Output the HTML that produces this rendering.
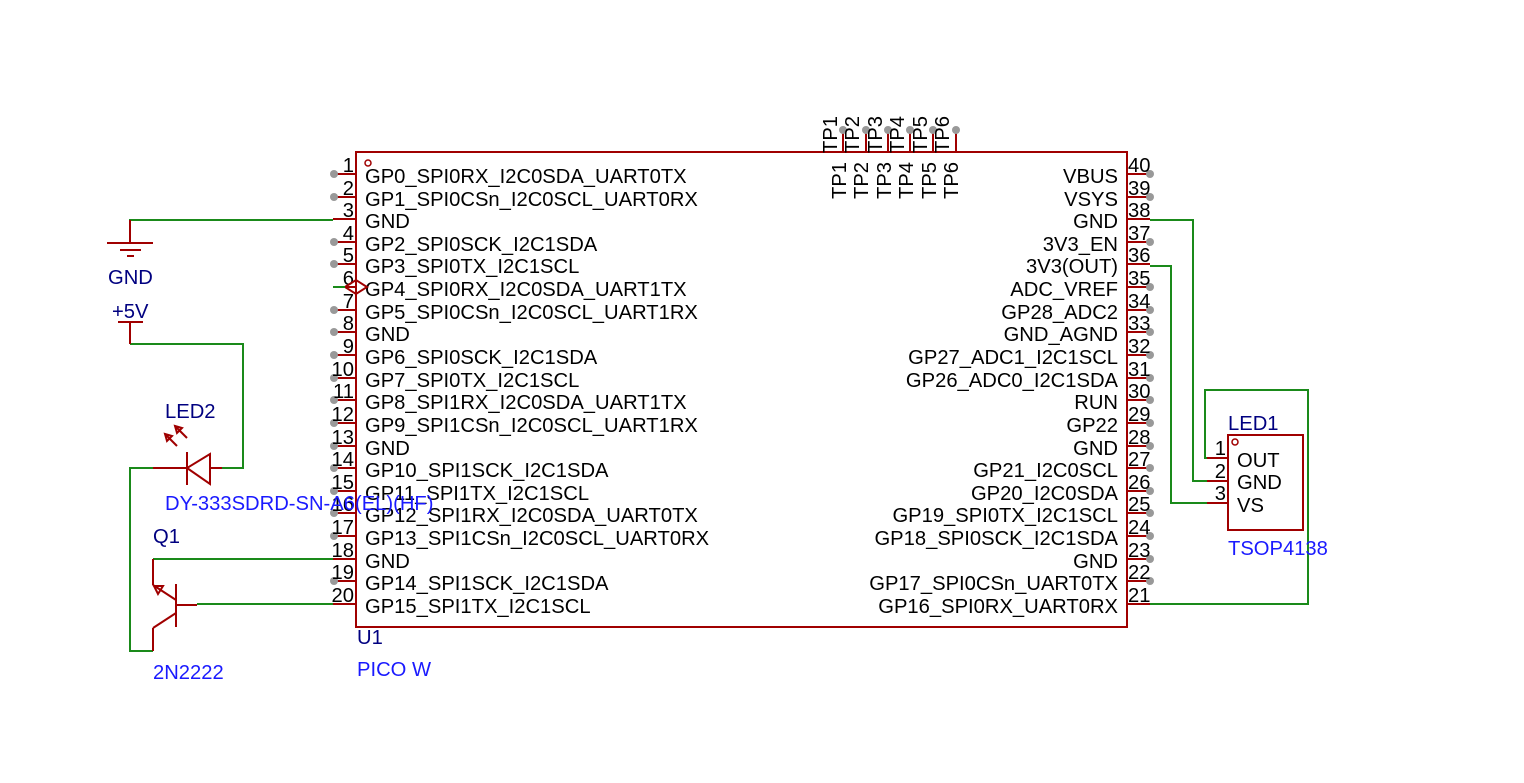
<!DOCTYPE html>
<html><head><meta charset="utf-8"><style>
html,body{margin:0;padding:0;background:#fff;}
svg{display:block;}
text{font-family:"Liberation Sans",Arial,sans-serif;font-size:20.2px;}
</style></head><body>
<svg width="1524" height="783" viewBox="0 0 1524 783" xmlns="http://www.w3.org/2000/svg">
<rect width="1524" height="783" fill="#fff"/>
<rect x="356" y="152" width="771" height="475" fill="none" stroke="#a00000" stroke-width="2"/>
<circle cx="368" cy="163" r="3" fill="none" stroke="#a00000" stroke-width="1.5"/>
<g stroke="#a00000" stroke-width="2">
<line x1="333" y1="174" x2="356" y2="174"/><line x1="333" y1="197" x2="356" y2="197"/><line x1="333" y1="219" x2="356" y2="219"/><line x1="333" y1="242" x2="356" y2="242"/><line x1="333" y1="264" x2="356" y2="264"/><line x1="333" y1="287" x2="356" y2="287"/><line x1="333" y1="310" x2="356" y2="310"/><line x1="333" y1="332" x2="356" y2="332"/><line x1="333" y1="355" x2="356" y2="355"/><line x1="333" y1="378" x2="356" y2="378"/><line x1="333" y1="400" x2="356" y2="400"/><line x1="333" y1="423" x2="356" y2="423"/><line x1="333" y1="446" x2="356" y2="446"/><line x1="333" y1="468" x2="356" y2="468"/><line x1="333" y1="491" x2="356" y2="491"/><line x1="333" y1="513" x2="356" y2="513"/><line x1="333" y1="536" x2="356" y2="536"/><line x1="333" y1="559" x2="356" y2="559"/><line x1="333" y1="581" x2="356" y2="581"/><line x1="333" y1="604" x2="356" y2="604"/>
<line x1="1127" y1="174" x2="1150" y2="174"/><line x1="1127" y1="197" x2="1150" y2="197"/><line x1="1127" y1="219" x2="1150" y2="219"/><line x1="1127" y1="242" x2="1150" y2="242"/><line x1="1127" y1="264" x2="1150" y2="264"/><line x1="1127" y1="287" x2="1150" y2="287"/><line x1="1127" y1="310" x2="1150" y2="310"/><line x1="1127" y1="332" x2="1150" y2="332"/><line x1="1127" y1="355" x2="1150" y2="355"/><line x1="1127" y1="378" x2="1150" y2="378"/><line x1="1127" y1="400" x2="1150" y2="400"/><line x1="1127" y1="423" x2="1150" y2="423"/><line x1="1127" y1="446" x2="1150" y2="446"/><line x1="1127" y1="468" x2="1150" y2="468"/><line x1="1127" y1="491" x2="1150" y2="491"/><line x1="1127" y1="513" x2="1150" y2="513"/><line x1="1127" y1="536" x2="1150" y2="536"/><line x1="1127" y1="559" x2="1150" y2="559"/><line x1="1127" y1="581" x2="1150" y2="581"/><line x1="1127" y1="604" x2="1150" y2="604"/>
</g>
<g fill="#999">
<circle cx="334" cy="174" r="4"/><circle cx="334" cy="197" r="4"/><circle cx="334" cy="242" r="4"/><circle cx="334" cy="264" r="4"/><circle cx="334" cy="310" r="4"/><circle cx="334" cy="332" r="4"/><circle cx="334" cy="355" r="4"/><circle cx="334" cy="378" r="4"/><circle cx="334" cy="400" r="4"/><circle cx="334" cy="423" r="4"/><circle cx="334" cy="446" r="4"/><circle cx="334" cy="468" r="4"/><circle cx="334" cy="491" r="4"/><circle cx="334" cy="513" r="4"/><circle cx="334" cy="536" r="4"/><circle cx="334" cy="581" r="4"/>
<circle cx="1150" cy="174" r="4"/><circle cx="1150" cy="197" r="4"/><circle cx="1150" cy="242" r="4"/><circle cx="1150" cy="287" r="4"/><circle cx="1150" cy="310" r="4"/><circle cx="1150" cy="332" r="4"/><circle cx="1150" cy="355" r="4"/><circle cx="1150" cy="378" r="4"/><circle cx="1150" cy="400" r="4"/><circle cx="1150" cy="423" r="4"/><circle cx="1150" cy="446" r="4"/><circle cx="1150" cy="468" r="4"/><circle cx="1150" cy="491" r="4"/><circle cx="1150" cy="513" r="4"/><circle cx="1150" cy="536" r="4"/><circle cx="1150" cy="559" r="4"/><circle cx="1150" cy="581" r="4"/>
</g>
<g fill="#000" text-anchor="end">
<text x="354" y="172">1</text><text x="354" y="195">2</text><text x="354" y="217">3</text><text x="354" y="240">4</text><text x="354" y="262">5</text><text x="354" y="285">6</text><text x="354" y="308">7</text><text x="354" y="330">8</text><text x="354" y="353">9</text><text x="354" y="376">10</text><text x="354" y="398">11</text><text x="354" y="421">12</text><text x="354" y="444">13</text><text x="354" y="466">14</text><text x="354" y="489">15</text><text x="354" y="511">16</text><text x="354" y="534">17</text><text x="354" y="557">18</text><text x="354" y="579">19</text><text x="354" y="602">20</text>
</g>
<g fill="#000">
<text x="1128" y="172">40</text><text x="1128" y="195">39</text><text x="1128" y="217">38</text><text x="1128" y="240">37</text><text x="1128" y="262">36</text><text x="1128" y="285">35</text><text x="1128" y="308">34</text><text x="1128" y="330">33</text><text x="1128" y="353">32</text><text x="1128" y="376">31</text><text x="1128" y="398">30</text><text x="1128" y="421">29</text><text x="1128" y="444">28</text><text x="1128" y="466">27</text><text x="1128" y="489">26</text><text x="1128" y="511">25</text><text x="1128" y="534">24</text><text x="1128" y="557">23</text><text x="1128" y="579">22</text><text x="1128" y="602">21</text>
</g>
<g fill="#000">
<text x="365" y="183">GP0_SPI0RX_I2C0SDA_UART0TX</text>
<text x="365" y="206">GP1_SPI0CSn_I2C0SCL_UART0RX</text>
<text x="365" y="228">GND</text>
<text x="365" y="251">GP2_SPI0SCK_I2C1SDA</text>
<text x="365" y="273">GP3_SPI0TX_I2C1SCL</text>
<text x="365" y="296">GP4_SPI0RX_I2C0SDA_UART1TX</text>
<text x="365" y="319">GP5_SPI0CSn_I2C0SCL_UART1RX</text>
<text x="365" y="341">GND</text>
<text x="365" y="364">GP6_SPI0SCK_I2C1SDA</text>
<text x="365" y="387">GP7_SPI0TX_I2C1SCL</text>
<text x="365" y="409">GP8_SPI1RX_I2C0SDA_UART1TX</text>
<text x="365" y="432">GP9_SPI1CSn_I2C0SCL_UART1RX</text>
<text x="365" y="455">GND</text>
<text x="365" y="477">GP10_SPI1SCK_I2C1SDA</text>
<text x="365" y="500">GP11_SPI1TX_I2C1SCL</text>
<text x="365" y="522">GP12_SPI1RX_I2C0SDA_UART0TX</text>
<text x="365" y="545">GP13_SPI1CSn_I2C0SCL_UART0RX</text>
<text x="365" y="568">GND</text>
<text x="365" y="590">GP14_SPI1SCK_I2C1SDA</text>
<text x="365" y="613">GP15_SPI1TX_I2C1SCL</text>
</g>
<g fill="#000" text-anchor="end">
<text x="1118" y="183">VBUS</text>
<text x="1118" y="206">VSYS</text>
<text x="1118" y="228">GND</text>
<text x="1118" y="251">3V3_EN</text>
<text x="1118" y="273">3V3(OUT)</text>
<text x="1118" y="296">ADC_VREF</text>
<text x="1118" y="319">GP28_ADC2</text>
<text x="1118" y="341">GND_AGND</text>
<text x="1118" y="364">GP27_ADC1_I2C1SCL</text>
<text x="1118" y="387">GP26_ADC0_I2C1SDA</text>
<text x="1118" y="409">RUN</text>
<text x="1118" y="432">GP22</text>
<text x="1118" y="455">GND</text>
<text x="1118" y="477">GP21_I2C0SCL</text>
<text x="1118" y="500">GP20_I2C0SDA</text>
<text x="1118" y="522">GP19_SPI0TX_I2C1SCL</text>
<text x="1118" y="545">GP18_SPI0SCK_I2C1SDA</text>
<text x="1118" y="568">GND</text>
<text x="1118" y="590">GP17_SPI0CSn_UART0TX</text>
<text x="1118" y="613">GP16_SPI0RX_UART0RX</text>
</g>
<g stroke="#a00000" stroke-width="2">
<line x1="843" y1="130" x2="843" y2="152"/><line x1="866" y1="130" x2="866" y2="152"/>
<line x1="888" y1="130" x2="888" y2="152"/><line x1="910" y1="130" x2="910" y2="152"/>
<line x1="933" y1="130" x2="933" y2="152"/><line x1="956" y1="130" x2="956" y2="152"/>
</g>
<g fill="#999"><circle cx="843" cy="130" r="4"/><circle cx="866" cy="130" r="4"/><circle cx="888" cy="130" r="4"/><circle cx="910" cy="130" r="4"/><circle cx="933" cy="130" r="4"/><circle cx="956" cy="130" r="4"/></g>
<g fill="#000">
<text transform="translate(837,153) rotate(-90)">TP1</text>
<text transform="translate(859,153) rotate(-90)">TP2</text>
<text transform="translate(882,153) rotate(-90)">TP3</text>
<text transform="translate(904,153) rotate(-90)">TP4</text>
<text transform="translate(927,153) rotate(-90)">TP5</text>
<text transform="translate(949,153) rotate(-90)">TP6</text>
<text transform="translate(846,199) rotate(-90)">TP1</text>
<text transform="translate(868,199) rotate(-90)">TP2</text>
<text transform="translate(891,199) rotate(-90)">TP3</text>
<text transform="translate(913,199) rotate(-90)">TP4</text>
<text transform="translate(936,199) rotate(-90)">TP5</text>
<text transform="translate(958,199) rotate(-90)">TP6</text>
</g>
<path d="M345 287 L356 280 L367 287 L356 294 Z" fill="none" stroke="#a00000" stroke-width="2"/>
<line x1="333" y1="287" x2="345" y2="287" stroke="#1a8a1a" stroke-width="2"/>
<g fill="none" stroke="#1a8a1a" stroke-width="2">
<polyline points="333,220 130,220 130,228"/>
<polyline points="130,344 243,344 243,468 222,468"/>
<polyline points="153,468 130,468 130,651 153,651"/>
<polyline points="333,559 153,559"/>
<polyline points="333,604 197,604"/>
<polyline points="1150,220 1193,220 1193,481 1207,481"/>
<polyline points="1150,266 1171,266 1171,503 1207,503"/>
<polyline points="1207,458 1205,458 1205,390 1308,390 1308,604 1150,604"/>
</g>
<g stroke="#a00000" stroke-width="2" fill="none">
<line x1="130" y1="220" x2="130" y2="243"/>
<line x1="107" y1="243" x2="153" y2="243"/>
<line x1="120" y1="250" x2="141" y2="250"/>
<line x1="127" y1="256" x2="134" y2="256"/>
<line x1="118" y1="322" x2="143" y2="322"/>
<line x1="130" y1="322" x2="130" y2="344"/>
<line x1="153" y1="468" x2="187" y2="468"/>
<line x1="210" y1="468" x2="222" y2="468"/>
<path d="M210 454 L210 484 L187 468 Z"/>
<line x1="187" y1="452" x2="187" y2="485"/>
<line x1="177" y1="446" x2="165" y2="434"/><path d="M165 434 L172 436 L167 441 Z"/>
<line x1="187" y1="438" x2="175" y2="426"/><path d="M175 426 L182 428 L177 433 Z"/>
<line x1="153" y1="559" x2="153" y2="585"/>
<line x1="153" y1="585" x2="176" y2="600"/>
<path d="M154 586 L163 586 L158 594 Z"/>
<line x1="176" y1="584" x2="176" y2="627"/>
<line x1="176" y1="605" x2="197" y2="605"/>
<line x1="176" y1="613" x2="153" y2="628"/>
<line x1="153" y1="628" x2="153" y2="651"/>
<rect x="1228" y="435" width="75" height="95"/>
<circle cx="1235" cy="442" r="3" stroke-width="1.5"/>
<line x1="1207" y1="458" x2="1228" y2="458"/>
<line x1="1207" y1="481" x2="1228" y2="481"/>
<line x1="1207" y1="503" x2="1228" y2="503"/>
</g>
<g fill="#000">
<text x="1226" y="455" text-anchor="end">1</text>
<text x="1226" y="478" text-anchor="end">2</text>
<text x="1226" y="500" text-anchor="end">3</text>
<text x="1237" y="467">OUT</text>
<text x="1237" y="489">GND</text>
<text x="1237" y="512">VS</text>
</g>
<g fill="#000080">
<text x="108" y="284">GND</text>
<text x="112" y="318">+5V</text>
<text x="165" y="418">LED2</text>
<text x="153" y="543">Q1</text>
<text x="357" y="644">U1</text>
<text x="1228" y="430">LED1</text>
</g>
<g fill="#1a1aff">
<text x="165" y="510">DY-333SDRD-SN-A6(EL)(HF)</text>
<text x="153" y="679">2N2222</text>
<text x="357" y="676">PICO W</text>
<text x="1228" y="555">TSOP4138</text>
</g>
</svg>
</body></html>
